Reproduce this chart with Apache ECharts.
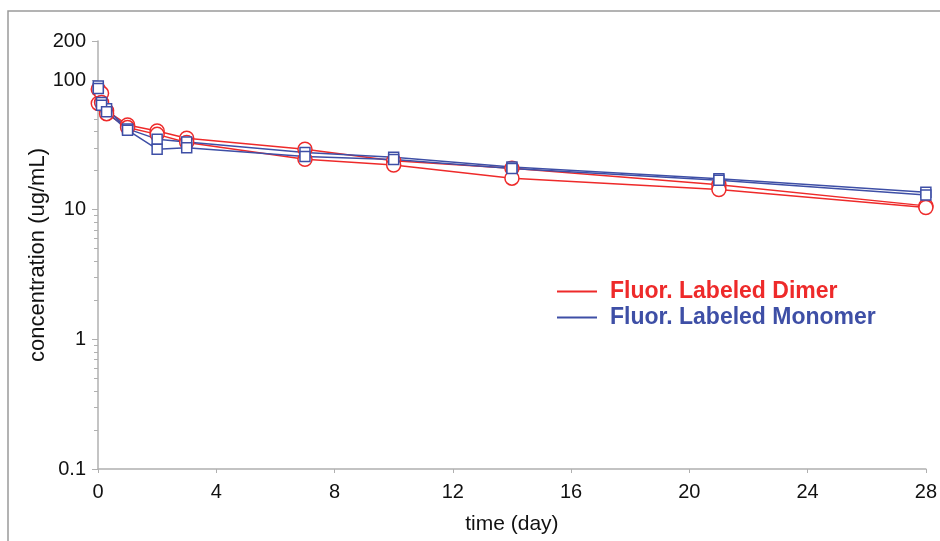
<!DOCTYPE html>
<html>
<head>
<meta charset="utf-8">
<script src="https://cdn.jsdelivr.net/npm/echarts@6/dist/echarts.min.js"></script>
<style>
  html, body { margin: 0; padding: 0; background: #fff; }
  #chart { width: 940px; height: 541px; }
</style>
</head>
<body>
<div id="chart"></div>
<script>
// sampling times (day)
const days = [0.01, 0.12, 0.29, 1, 2, 3, 7, 10, 14, 21, 28]

// concentration (ug/mL), two animals per group
const dimerA = [85, 79, 58, 45, 40.5, 35.6, 29.3, 23.8, 20.9, 15.6, 10.7]
const dimerB = [66, 67, 55, 43, 38.1, 33.0, 24.5, 22.1, 17.5, 14.3, 10.4]
const monomerA = [90, 67, 60, 42, 35.0, 33.3, 27.6, 25.4, 21.3, 17.3, 13.6]
const monomerB = [86, 64, 57, 41, 29.3, 30.1, 25.7, 24.4, 20.8, 16.9, 13.0]

const yMajor = [0.1, 1, 10, 100, 200]
const yMinor = [0.2, 0.3, 0.4, 0.5, 0.6, 0.7, 0.8, 0.9, 2, 3, 4, 5, 6, 7, 8, 9, 20, 30, 40, 50, 60, 70, 80, 90]

const DIMER = 'Fluor. Labeled Dimer'
const MONOMER = 'Fluor. Labeled Monomer'
const RED = '#ee2a2a'
const BLUE = '#3e4fa6'
const FONT = 'Liberation Sans, Arial'

const pairs = (ys) => days.map((d, i) => [d, ys[i]])

const chart = echarts.init(document.getElementById('chart'))

const lineSeries = (name, ys, color, symbol, size) => ({
  name: name,
  type: 'line',
  data: pairs(ys),
  symbol: symbol,
  symbolSize: size,
  showAllSymbol: true,
  lineStyle: { color: color, width: 1.5 },
  itemStyle: { color: '#fff', borderColor: color, borderWidth: 1.5 },
  emphasis: { disabled: true },
  animation: false,
  z: 3
})

chart.setOption({
  animation: false,
  grid: { left: 98, right: 12, top: 41, bottom: 72 },
  legend: {
    left: 557,
    top: 280,
    padding: 0,
    orient: 'vertical',
    itemGap: 3,
    itemWidth: 40,
    itemHeight: 2,
    icon: 'rect',
    selectedMode: false,
    textStyle: { fontFamily: FONT, fontSize: 23, fontWeight: 'bold', padding: [0, 0, 0, 8] },
    data: [
      { name: DIMER, itemStyle: { color: RED, borderWidth: 0 }, textStyle: { color: RED } },
      { name: MONOMER, itemStyle: { color: BLUE, borderWidth: 0 }, textStyle: { color: BLUE } }
    ]
  },
  xAxis: {
    type: 'value',
    min: 0,
    max: 28,
    interval: 4,
    name: 'time (day)',
    nameLocation: 'middle',
    nameGap: 45,
    nameTextStyle: { fontFamily: FONT, fontSize: 21, color: '#111' },
    axisLine: { lineStyle: { color: '#b0b0b0', width: 1.5 } },
    axisTick: { show: true, length: 4, lineStyle: { color: '#b0b0b0' } },
    axisLabel: { fontFamily: FONT, fontSize: 20, color: '#111', margin: 13 },
    splitLine: { show: false }
  },
  yAxis: [
    {
      type: 'log',
      logBase: 10,
      min: 0.1,
      max: 200,
      name: 'concentration (ug/mL)',
      nameLocation: 'middle',
      nameGap: 49,
      nameMoveOverlap: false,
      nameTextStyle: { fontFamily: FONT, fontSize: 22, color: '#111' },
      axisLine: { show: true, lineStyle: { color: '#b0b0b0', width: 1.5 } },
      axisTick: { show: true, length: 6, customValues: yMajor, lineStyle: { color: '#b0b0b0' } },
      axisLabel: {
        fontFamily: FONT, fontSize: 20, color: '#111', margin: 12,
        customValues: yMajor,
        formatter: (v) => String(+v.toPrecision(3))
      },
      splitLine: { show: false }
    },
    {
      // minor ticks only
      type: 'log',
      logBase: 10,
      min: 0.1,
      max: 200,
      position: 'left',
      axisLine: { show: false },
      axisTick: { show: true, length: 4, customValues: yMinor, lineStyle: { color: '#b0b0b0' } },
      axisLabel: { show: false },
      splitLine: { show: false }
    }
  ],
  graphic: [
    {
      type: 'polyline',
      shape: { points: [[8, 541], [8, 11], [940, 11]] },
      style: { stroke: '#9a9a9a', lineWidth: 1.5, fill: null },
      silent: true
    }
  ],
  series: [
    lineSeries(DIMER, dimerA, RED, 'circle', 14),
    lineSeries(DIMER, dimerB, RED, 'circle', 14),
    lineSeries(MONOMER, monomerA, BLUE, 'rect', 10),
    lineSeries(MONOMER, monomerB, BLUE, 'rect', 10)
  ]
})
</script>
</body>
</html>
